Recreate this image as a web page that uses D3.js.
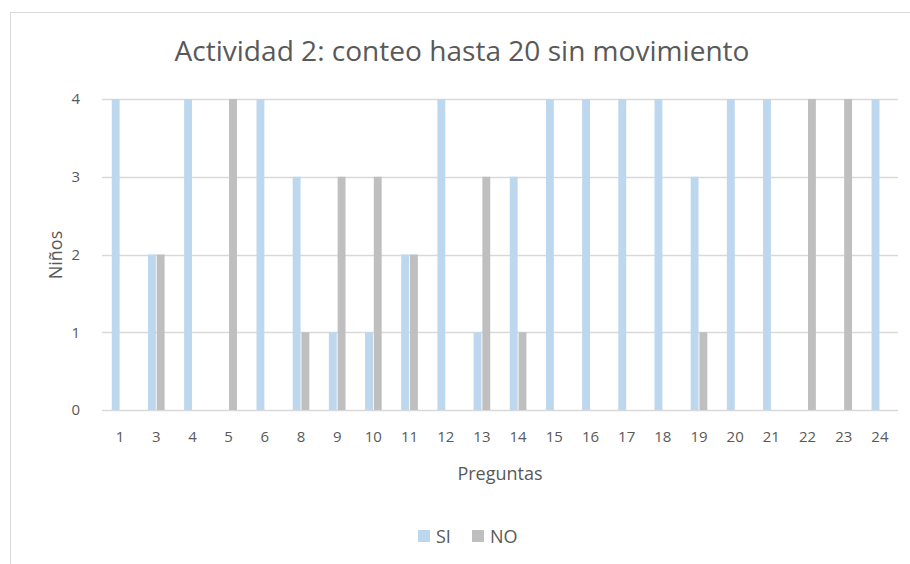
<!DOCTYPE html>
<html>
<head>
<meta charset="utf-8">
<script src="https://cdn.jsdelivr.net/npm/d3@7"></script>
<style>
  body { margin: 0; background: #fff; }
  svg text { font-family: "Open Sans", "Noto Sans", sans-serif; fill: #595959; }
</style>
</head>
<body>
<svg id="chart" width="910" height="564"></svg>
<script>
// chart data
const preguntas = ["1", "3", "4", "5", "6", "8", "9", "10", "11", "12", "13", "14", "15", "16", "17", "18", "19", "20", "21", "22", "23", "24"];
const si = [4, 2, 4, 0, 4, 3, 1, 1, 2, 4, 1, 3, 4, 4, 4, 4, 3, 4, 4, 0, 0, 4];
const no = [0, 2, 0, 4, 0, 1, 3, 3, 2, 0, 3, 1, 0, 0, 0, 0, 1, 0, 0, 4, 4, 0];
const seriesNames = ["SI", "NO"];
const yTicks = [0, 1, 2, 3, 4];

const colors = { SI: "#BDD7EE", NO: "#BFBFBF" };
const width = 910, height = 564;
const margin = { top: 99, right: 12, bottom: 153, left: 102 };

const svg = d3.select("#chart");

// chart frame
svg.append("rect")
    .attr("x", 10.5).attr("y", 12.5)
    .attr("width", width + 20).attr("height", height + 20)
    .attr("fill", "none").attr("stroke", "#d9d9d9");

const x = d3.scaleBand()
    .domain(preguntas)
    .range([margin.left, width - margin.right])
    .paddingInner(0.54)
    .paddingOuter(0.27);

const xInner = d3.scaleBand()
    .domain(seriesNames)
    .range([0, x.bandwidth()])
    .paddingInner(0.1);

const y = d3.scaleLinear()
    .domain([0, 4])
    .range([height - margin.bottom - 1, margin.top]);

// gridlines
svg.append("g")
    .selectAll("line")
    .data(yTicks)
    .join("line")
    .attr("x1", margin.left)
    .attr("x2", width - margin.right)
    .attr("y1", (d) => Math.round(y(d)) + 0.5)
    .attr("y2", (d) => Math.round(y(d)) + 0.5)
    .attr("stroke", "#d9d9d9")
    .attr("stroke-width", 1.5);

// y axis
const yAxis = svg.append("g")
    .attr("transform", `translate(${margin.left - 19},0)`)
    .call(d3.axisLeft(y).tickValues(yTicks).tickFormat(d3.format("d")).tickSize(0));
yAxis.select(".domain").remove();
yAxis.selectAll("text").style("font-size", "15px").attr("fill", "#595959");

// x axis
const xAxis = svg.append("g")
    .attr("transform", `translate(0,${height - margin.bottom + 17})`)
    .call(d3.axisBottom(x).tickSize(0));
xAxis.select(".domain").remove();
xAxis.selectAll("text").style("font-size", "15px").attr("fill", "#595959");

// bars
const rows = preguntas.map((p, i) => ({ p: p, SI: si[i], NO: no[i] }));
const groups = svg.append("g")
    .selectAll("g")
    .data(rows)
    .join("g")
    .attr("transform", (d) => `translate(${x(d.p)},0)`);

groups.selectAll("rect")
    .data((d) => seriesNames.map((s) => ({ s: s, v: d[s] })))
    .join("rect")
    .attr("x", (d) => xInner(d.s))
    .attr("width", xInner.bandwidth())
    .attr("y", (d) => y(d.v))
    .attr("height", (d) => y(0) - y(d.v))
    .attr("fill", (d) => colors[d.s]);

// title
svg.append("text")
    .attr("x", 462).attr("y", 61)
    .attr("text-anchor", "middle")
    .style("font-size", "28px")
    .attr("textLength", 575)
    .attr("lengthAdjust", "spacingAndGlyphs")
    .text("Actividad 2: conteo hasta 20 sin movimiento");

// axis titles
svg.append("text")
    .attr("x", 500).attr("y", 480)
    .attr("text-anchor", "middle")
    .style("font-size", "18px")
    .text("Preguntas");

svg.append("text")
    .attr("transform", "translate(62,255) rotate(-90)")
    .attr("text-anchor", "middle")
    .style("font-size", "18px")
    .text("Niños");

// legend
const legend = svg.append("g")
    .selectAll("g")
    .data(seriesNames)
    .join("g")
    .attr("transform", (d, i) => `translate(${418 + i * 54},530)`);

legend.append("rect")
    .attr("width", 12).attr("height", 12)
    .attr("fill", (d) => colors[d]);

legend.append("text")
    .attr("x", 18).attr("y", 13)
    .style("font-size", "18px")
    .text((d) => d);
</script>
</body>
</html>
